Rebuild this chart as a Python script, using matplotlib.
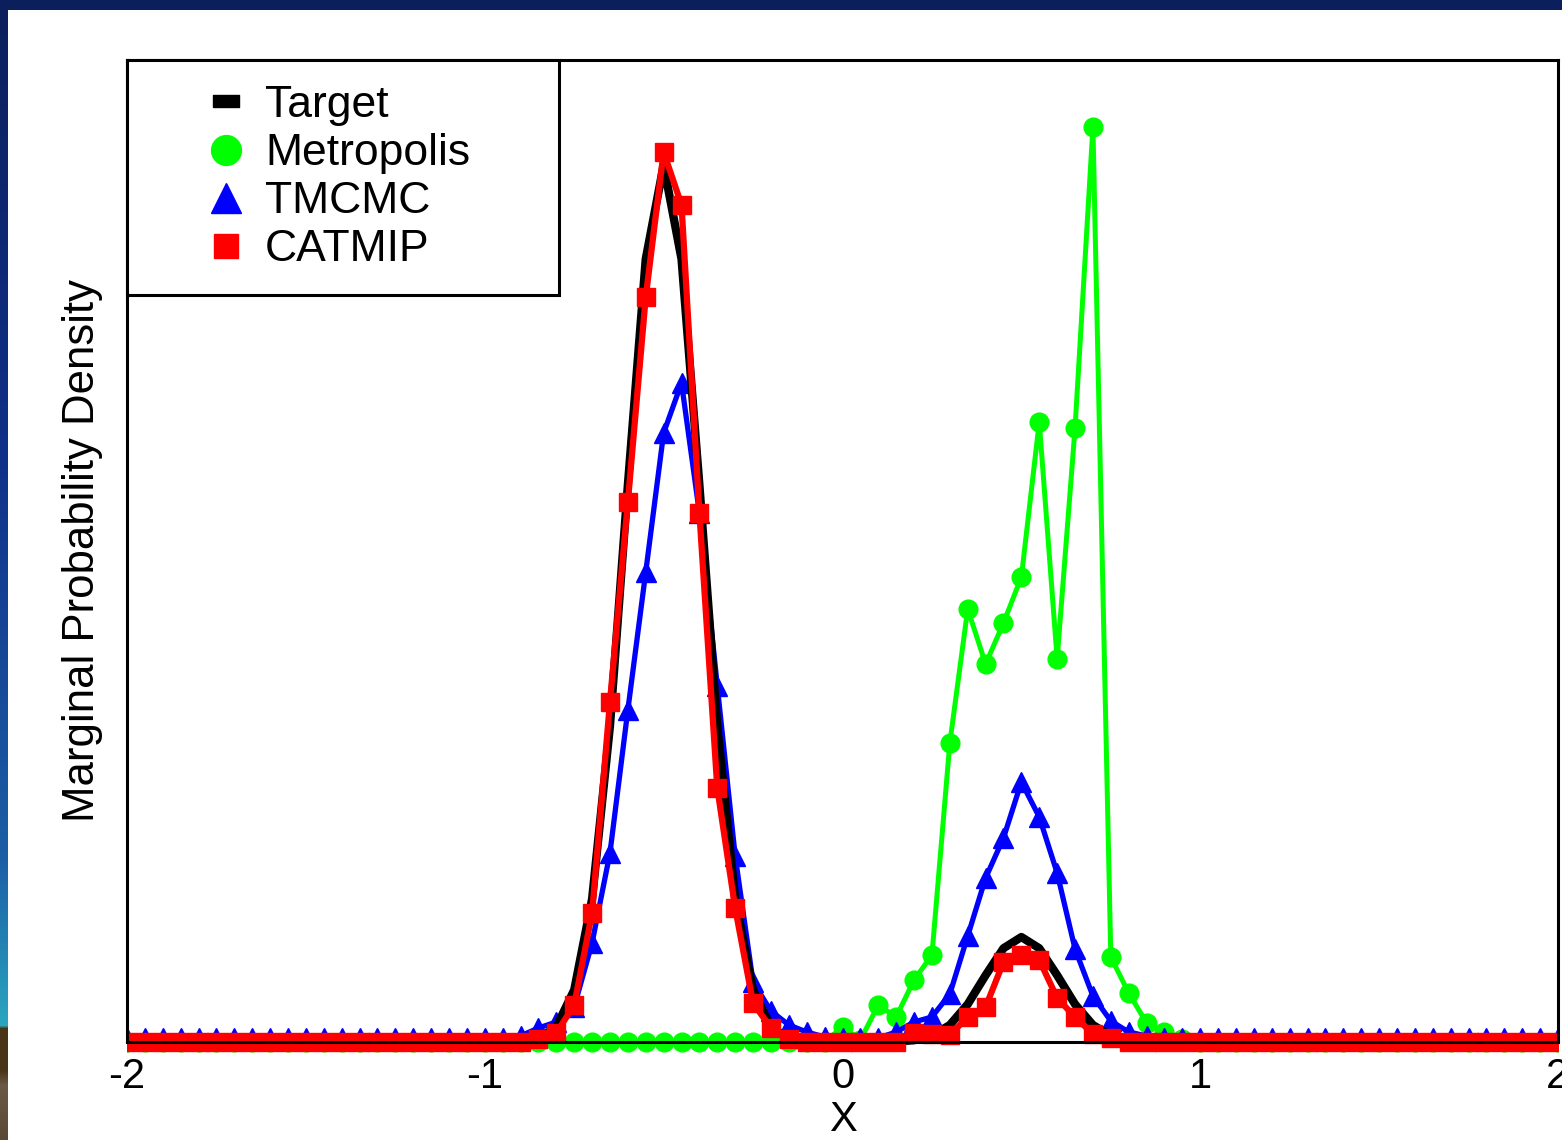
import numpy as np
import matplotlib.pyplot as plt
from matplotlib.lines import Line2D
from matplotlib.patches import Rectangle
from matplotlib.colors import to_rgb

plt.rcParams['font.family'] = ['Liberation Sans', 'DejaVu Sans']

# x grid of the histogram-like density estimates (-2 .. 2, step 0.05)
x = np.round(np.linspace(-2, 2, 81), 2)

# values (arbitrary density units, y axis has no ticks)
target = ([0.0] * 23 +
          [0.014, 0.060, 0.208, 0.572, 1.264, 2.228, 3.132, 3.508, 3.132, 2.228,
           1.264, 0.572, 0.208, 0.060, 0.014, 0.0, 0.0, 0.0, 0.0, 0.0,
           0.002, 0.007, 0.025, 0.068, 0.151, 0.267, 0.375, 0.420, 0.375, 0.267,
           0.151, 0.068, 0.025, 0.007] +
          [0.0] * 24)

metropolis = ([0.0] * 40 +
              [0.060, 0.008, 0.148, 0.100, 0.248, 0.348, 1.196, 1.732, 1.512, 1.676,
               1.860, 2.480, 1.532, 2.456, 3.660, 0.340, 0.196, 0.076, 0.040, 0.012] +
              [0.0] * 21)

tmcmc = ([0.016] * 22 +
         [0.024, 0.056, 0.080, 0.140, 0.396, 0.756, 1.328, 1.880, 2.436, 2.636,
          2.116, 1.424, 0.744, 0.240, 0.124, 0.068, 0.040, 0.020, 0.016, 0.016,
          0.016, 0.040, 0.080, 0.100, 0.192, 0.424, 0.656, 0.816, 1.040, 0.900,
          0.676, 0.372, 0.184, 0.084, 0.040, 0.024] +
         [0.016] * 23)

catmip = ([0.0] * 23 +
          [0.012, 0.036, 0.148, 0.516, 1.360, 2.160, 2.980, 3.560, 3.348, 2.116,
           1.016, 0.536, 0.156, 0.056, 0.012, 0.0, 0.0, 0.0, 0.0, 0.0,
           0.0, 0.036, 0.032, 0.028, 0.100, 0.140, 0.320, 0.348, 0.328, 0.176,
           0.100, 0.032, 0.016] +
          [0.0] * 25)

xticks = [-2, -1, 0, 1, 2]
xtick_labels = ['-2', '-1', '0', '1', '2']
labels = ['Target', 'Metropolis', 'TMCMC', 'CATMIP']

W, H = 1562, 1140
fig = plt.figure(figsize=(W / 100, H / 100), dpi=100)
fig.patch.set_facecolor('#0b1f5c')

# white slide area
fig.patches.append(Rectangle((8 / W, 0), 1 - 8 / W, 1 - 10 / H,
                             transform=fig.transFigure, fc='white', ec='none', zorder=-1))

# slide strip on the left edge (blue gradient, picture at the bottom)
strip = fig.add_axes([0, 0, 8 / W, 1 - 10 / H])
stops = [(0, '#0b1f5c'), (450, '#10318a'), (850, '#1c5fa6'), (1015, '#2aa6bf'),
         (1018, '#4a3418'), (1060, '#4a3418'), (1075, '#6a5a44'), (1130, '#5a4a34')]
rows = np.arange(1130)
pos = [s[0] for s in stops]
cols = np.array([to_rgb(s[1]) for s in stops])
grad = np.stack([np.interp(rows, pos, cols[:, k]) for k in range(3)], axis=-1)
strip.imshow(grad[:, None, :], aspect='auto', extent=(0, 1, 0, 1))
strip.axis('off')

ax = fig.add_axes([127 / W, 1 - 1042 / H, 1431 / W, 982 / H])
ax.patch.set_alpha(0)

clip = Rectangle((0, -0.05), 1, 1.1, transform=ax.transAxes)

l1, = ax.plot(x, metropolis, color='#00ff00', lw=3.6, marker='o', ms=13.5, zorder=2)
l2, = ax.plot(x, tmcmc, color='#0000ff', lw=3.8, marker='^', ms=14, zorder=3)
l3, = ax.plot(x, target, color='black', lw=6, zorder=4)
l4, = ax.plot(x, catmip, color='#ff0000', lw=4.5, marker='s', ms=12.5, zorder=5)
for ln in (l1, l2, l3, l4):
    ln.set_clip_path(clip)

ax.set_xlim(-2, 2)
ax.set_ylim(0, 3.928)
ax.set_xticks(xticks)
ax.set_xticklabels(xtick_labels)
ax.set_yticks([])
ax.tick_params(axis='x', length=0, pad=11, labelsize=30)
for sp in ax.spines.values():
    sp.set_linewidth(2.2)
    sp.set_zorder(6)

ax.set_xlabel('X', fontsize=30, labelpad=2)
ax.set_ylabel('Marginal Probability Density', fontsize=31.5, labelpad=17)

# legend box
ax.add_patch(Rectangle((0, 1 - 235 / 982), 432 / 1431, 235 / 982, transform=ax.transAxes,
                       fc='white', ec='black', lw=2.2, zorder=10, clip_on=False))
bar = [(-1, -0.45), (1, -0.45), (1, 0.45), (-1, 0.45), (-1, -0.45)]
handles = [
    Line2D([], [], color='black', marker=bar, ms=19, ls='none'),
    Line2D([], [], color='#00ff00', marker='o', ms=21.5, ls='none'),
    Line2D([], [], color='#0000ff', marker='^', ms=22, ls='none'),
    Line2D([], [], color='#ff0000', marker='s', ms=17, ls='none'),
]
leg = ax.legend(handles, labels, loc='upper left', bbox_to_anchor=((204 - 127) / 1431, 1 - 25 / 982),
                frameon=False, fontsize=32, borderpad=0, handlelength=1.0,
                handletextpad=0.37, labelspacing=0.16, borderaxespad=0)
leg.set_zorder(11)

fig.savefig('out.png', dpi=100, facecolor=fig.get_facecolor())
